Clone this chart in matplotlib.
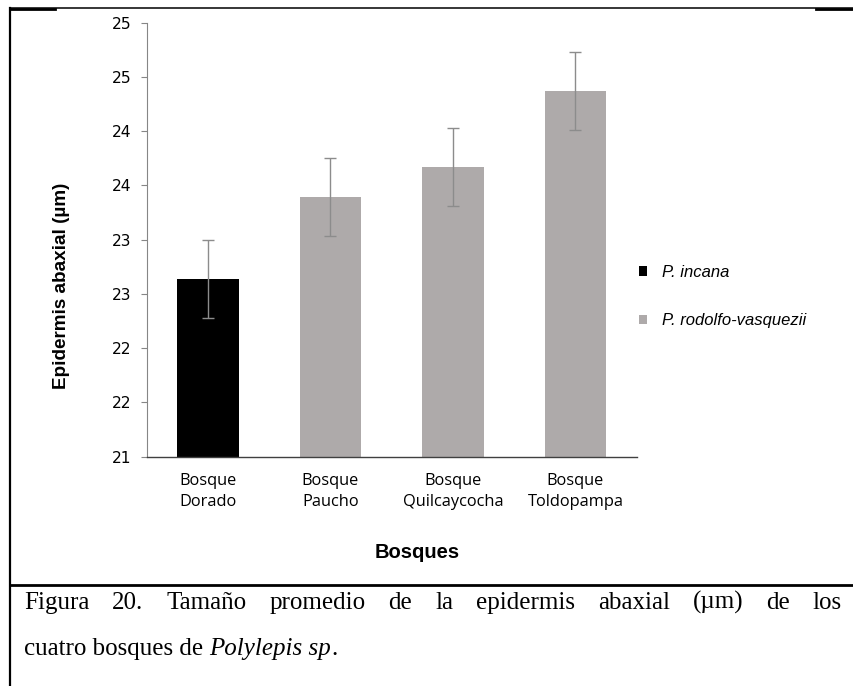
import matplotlib
matplotlib.use('Agg')
import numpy as np
import matplotlib.pyplot as plt
from matplotlib.ticker import FixedLocator, FixedFormatter

# Datos del grafico
bosques = ['Bosque\nDorado', 'Bosque\nPaucho', 'Bosque\nQuilcaycocha', 'Bosque\nToldopampa']
especie = ['P. incana', 'P. rodolfo-vasquezii', 'P. rodolfo-vasquezii', 'P. rodolfo-vasquezii']
promedio = [22.64, 23.39, 23.67, 24.37]
error = [0.36, 0.36, 0.36, 0.36]
yticks = [21, 21.5, 22, 22.5, 23, 23.5, 24, 24.5, 25]
ytick_labels = ['21', '22', '22', '23', '23', '24', '24', '25', '25']

colores = {'P. incana': '#000000', 'P. rodolfo-vasquezii': '#AEAAAA'}

W, H = 854, 686
fig = plt.figure(figsize=(W / 100, H / 100), dpi=100)

# ejes en pixeles del original
x0, x1, ytop, ybot = 146.7, 636.7, 22.7, 456.7
ax = fig.add_axes([x0 / W, 1 - ybot / H, (x1 - x0) / W, (ybot - ytop) / H])

x = np.arange(len(bosques))
for sp in ['P. incana', 'P. rodolfo-vasquezii']:
    idx = [i for i, e in enumerate(especie) if e == sp]
    ax.bar(x[idx], [promedio[i] - 21 for i in idx], bottom=21, width=0.5,
           color=colores[sp], label=sp, zorder=2)
ax.errorbar(x, promedio, yerr=error, fmt='none', ecolor='#8c8c8c',
            elinewidth=1, capsize=4.5, capthick=1, zorder=3)

ax.set_xlim(-0.5, 3.5)
ax.set_ylim(21, 25)
ax.yaxis.set_major_locator(FixedLocator(yticks))
ax.yaxis.set_major_formatter(FixedFormatter(ytick_labels))
ax.set_xticks(x)
ax.set_xticklabels(bosques, family='Open Sans', fontsize=11.8, linespacing=1.4)
ax.tick_params(axis='x', length=0, pad=12)
ax.tick_params(axis='y', length=4, width=0.8, color='#868686', pad=7,
               labelsize=11.2)
for t in ax.get_yticklabels():
    t.set_family('DejaVu Sans')

for s in ['top', 'right']:
    ax.spines[s].set_visible(False)
ax.spines['left'].set_color('#868686')
ax.spines['left'].set_linewidth(0.8)
ax.spines['bottom'].set_color('#404040')
ax.spines['bottom'].set_linewidth(1.0)

ax.set_ylabel('Epidermis abaxial (µm)', family='Liberation Sans', fontweight='bold',
              fontsize=13.6)
ax.yaxis.set_label_coords((70 - x0) / (x1 - x0), (ybot - 286) / (ybot - ytop))
fig.text(417 / W, 1 - 552 / H, 'Bosques', family='Liberation Sans', fontweight='bold',
         fontsize=14.5, ha='center', va='center')

leg = ax.legend(loc='upper left', bbox_to_anchor=(639 / W, 1 - 265 / H),
                bbox_transform=fig.transFigure, frameon=False,
                prop={'family': 'Liberation Sans', 'style': 'italic', 'size': 12},
                handlelength=0.5, handleheight=0.5, handletextpad=0.85,
                labelspacing=2.0, borderpad=0, borderaxespad=0)

# marco y leyenda de la figura
def hline(y, xa, xb, lw):
    fig.add_artist(plt.Line2D([xa / W, xb / W], [1 - y / H, 1 - y / H], color='black', lw=lw))

hline(8, 10, 854, 1.1)
hline(8.5, 10, 55, 2)
hline(8.5, 816, 854, 2)
hline(584.5, 10, 854, 2)
fig.add_artist(plt.Line2D([10 / W, 10 / W], [1 - 8 / H, 0], color='black', lw=1.6))

# pie de figura justificado
serif = 'Liberation Serif'
fs_cap = 18
linea1 = ['Figura', '20.', 'Tamaño', 'promedio', 'de', 'la', 'epidermis',
          'abaxial', '(µm)', 'de', 'los']
renderer = fig.canvas.get_renderer()
textos = [fig.text(0, 1 - 609 / H, w, family=serif, fontsize=fs_cap, va='baseline')
          for w in linea1]
anchos = [t.get_window_extent(renderer).width for t in textos]
xa, xb = 24, 842
hueco = (xb - xa - sum(anchos)) / (len(linea1) - 1)
pos = xa
for t, a in zip(textos, anchos):
    t.set_x(pos / W)
    pos += a + hueco

t2 = fig.text(24 / W, 1 - 655 / H, 'cuatro bosques de ', family=serif, fontsize=fs_cap,
              va='baseline')
a2 = t2.get_window_extent(renderer).width
t3 = fig.text((24 + a2) / W, 1 - 655 / H, 'Polylepis sp', family=serif, style='italic',
              fontsize=fs_cap, va='baseline')
a3 = t3.get_window_extent(renderer).width
fig.text((24 + a2 + a3) / W, 1 - 655 / H, '.', family=serif, fontsize=fs_cap, va='baseline')

fig.savefig('out.png', dpi=100)
